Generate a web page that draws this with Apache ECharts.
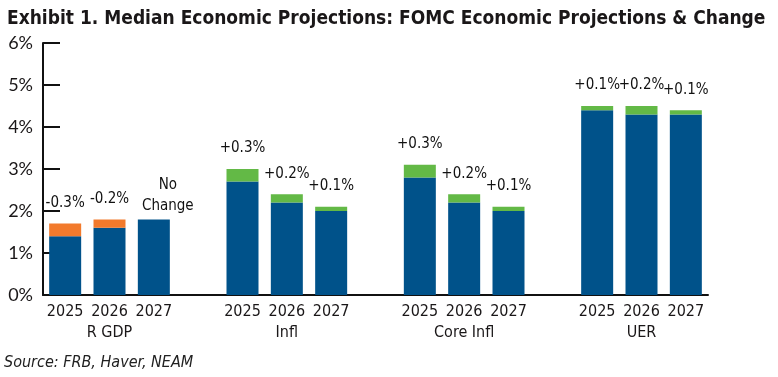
<!DOCTYPE html>
<html>
<head>
<meta charset="utf-8">
<script src="https://cdn.jsdelivr.net/npm/echarts@6/dist/echarts.min.js"></script>
<style>
  html, body { margin: 0; padding: 0; background: #fff; }
  #chart { width: 778px; height: 377px; }
</style>
</head>
<body>
<div id="chart"></div>
<script>
// 15 slots: 4 groups of 3 years, empty slots between groups
var years = ['2025', '2026', '2027', '', '2025', '2026', '2027', '', '2025', '2026', '2027', '', '2025', '2026', '2027'];
var groups = ['', 'R GDP', '', '', '', 'Infl', '', '', '', 'Core Infl', '', '', '', 'UER', ''];
// lower (blue) part of each bar
var base = [1.4, 1.6, 1.8, null, 2.7, 2.2, 2.0, null, 2.8, 2.2, 2.0, null, 4.4, 4.3, 4.3];
// change vs. previous projections
var change = [-0.3, -0.2, 0, null, 0.3, 0.2, 0.1, null, 0.3, 0.2, 0.1, null, 0.1, 0.2, 0.1];

var BLUE = '#00528a', GREEN = '#63b946', ORANGE = '#f27a2c';
var NARROW = '"Liberation Sans Narrow", "DejaVu Sans Condensed", sans-serif';

var topPart = [], labelPts = [];
for (var i = 0; i < base.length; i++) {
    if (base[i] == null) { topPart.push('-'); labelPts.push('-'); continue; }
    var c = change[i];
    topPart.push({ value: Math.abs(c), itemStyle: { color: c < 0 ? ORANGE : GREEN } });
    var txt = c === 0 ? 'No\nChange' : (c > 0 ? '+' : '') + c.toFixed(1) + '%';
    var pt = { value: base[i] + Math.abs(c), label: { formatter: txt } };
    if (c === 0) pt.label.distance = 3, pt.label.offset = [14, 0];
    labelPts.push(pt);
}

var myChart = echarts.init(document.getElementById('chart'));
var option = {
    animation: false,
    title: {
        text: 'Exhibit 1. Median Economic Projections: FOMC Economic Projections & Change',
        left: 2,
        top: 5,
        textStyle: { fontFamily: NARROW, fontSize: 19, fontWeight: 'bold', color: '#1a1718' }
    },
    graphic: [{
        type: 'text',
        left: 4,
        top: 355,
        style: { text: 'Source: FRB, Haver, NEAM', font: 'italic 16px ' + NARROW, fill: '#222' }
    }],
    grid: { left: 43, right: 70, top: 43, bottom: 82 },
    xAxis: {
        type: 'category',
        data: years,
        axisLine: { lineStyle: { color: '#111', width: 2 } },
        axisTick: { inside: true, length: 7, lineStyle: { color: '#111', width: 2 } },
        axisLabel: {
            interval: 0,
            margin: 6,
            fontFamily: NARROW,
            fontSize: 16,
            color: '#1a1718',
            lineHeight: 21,
            formatter: function (v, idx) {
                return groups[idx] ? v + '\n' + groups[idx] : v;
            }
        }
    },
    yAxis: {
        type: 'value',
        min: 0,
        max: 6,
        interval: 1,
        splitLine: { show: false },
        axisLine: { show: true, lineStyle: { color: '#111', width: 2 } },
        axisTick: { show: true, inside: true, length: 17, lineStyle: { color: '#111', width: 2 } },
        axisLabel: { formatter: '{value}%', margin: 10, fontFamily: 'Lato', fontSize: 18, color: '#1a1718' }
    },
    series: [
        {
            name: 'base',
            type: 'bar',
            stack: 'a',
            barWidth: 32,
            itemStyle: { color: BLUE },
            data: base.map(function (v) { return v == null ? '-' : v; })
        },
        {
            name: 'change',
            type: 'bar',
            stack: 'a',
            barWidth: 32,
            data: topPart
        },
        {
            name: 'labels',
            type: 'scatter',
            symbolSize: 0,
            silent: true,
            itemStyle: { opacity: 1 },
            label: {
                show: true,
                position: 'top',
                distance: 10,
                fontFamily: NARROW,
                fontSize: 15,
                lineHeight: 21,
                color: '#111'
            },
            data: labelPts
        }
    ]
};
myChart.setOption(option, true);
</script>
</body>
</html>
